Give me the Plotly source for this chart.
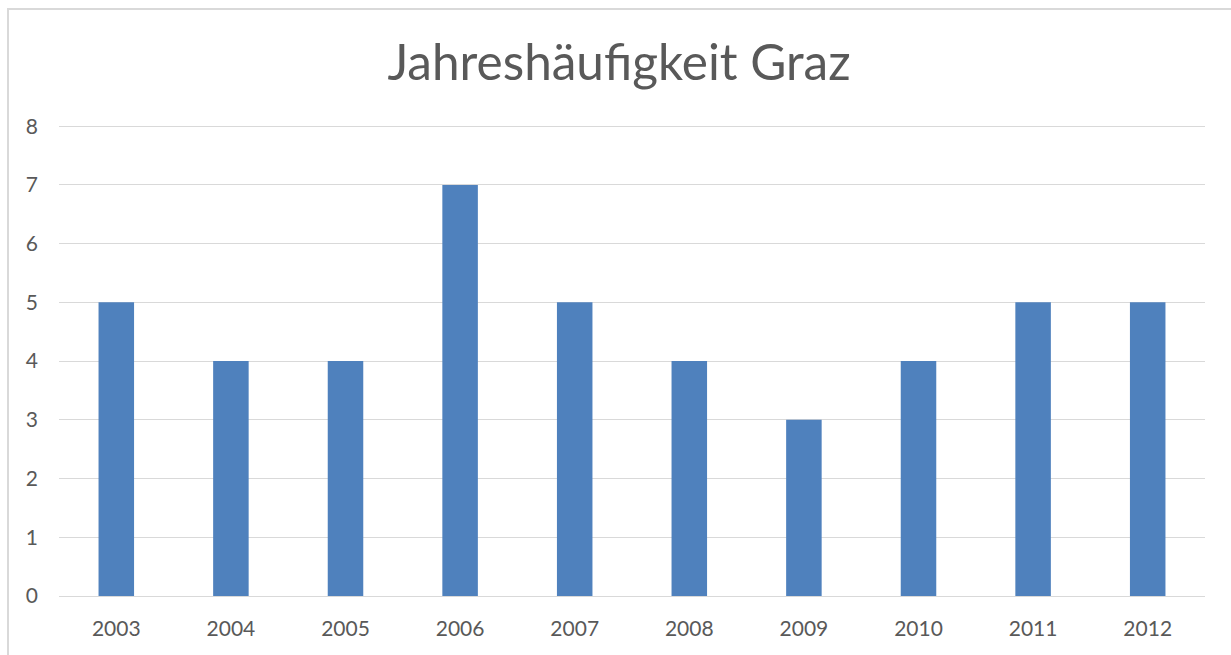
import plotly.graph_objects as go

years = ["2003", "2004", "2005", "2006", "2007", "2008", "2009", "2010", "2011", "2012"]
counts = [5, 4, 4, 7, 5, 4, 3, 4, 5, 5]
y_ticks = [0, 1, 2, 3, 4, 5, 6, 7, 8]

W, H = 1231, 655
L, R, T, B = 59, 26, 125, 59
pw, ph = W - L - R, H - T - B

def px_to_paper_x(px):
    return (px - L) / pw

def py_to_paper_y(py):
    return (H - B - py) / ph

fig = go.Figure(go.Bar(
    x=years, y=counts,
    marker=dict(color="#4F81BD", line=dict(width=0)),
    width=0.31,
))

fig.update_layout(
    width=W, height=H,
    margin=dict(l=L, r=R, t=T, b=B),
    paper_bgcolor="white", plot_bgcolor="white",
    font=dict(family="Lato, Carlito, Calibri, sans-serif", color="#595959"),
    title=dict(text="Jahreshäufigkeit Graz", x=619 / W, xref="container", xanchor="center",
               y=1 - 63 / H, yref="container", yanchor="middle",
               font=dict(size=49.5, color="#595959")),
    showlegend=False,
    xaxis=dict(type="category", showgrid=False, showline=True, linecolor="#d9d9d9", linewidth=1,
               ticks="", tickfont=dict(size=21, color="#595959"), ticklabelstandoff=14, fixedrange=True),
    yaxis=dict(range=[0, 8.02], tickvals=y_ticks, showgrid=True, gridcolor="#d9d9d9", gridwidth=1,
               zeroline=False, showline=False, ticks="",
               tickfont=dict(size=21, color="#595959"), ticklabelstandoff=20, fixedrange=True),
    shapes=[dict(type="rect", xref="paper", yref="paper",
                 x0=px_to_paper_x(8), x1=px_to_paper_x(1245),
                 y0=py_to_paper_y(670), y1=py_to_paper_y(9),
                 line=dict(color="#d9d9d9", width=2), fillcolor="rgba(0,0,0,0)", layer="below")],
)

fig.write_html("out.html", config={"displayModeBar": False},
               post_script="document.body.style.margin='0';")
